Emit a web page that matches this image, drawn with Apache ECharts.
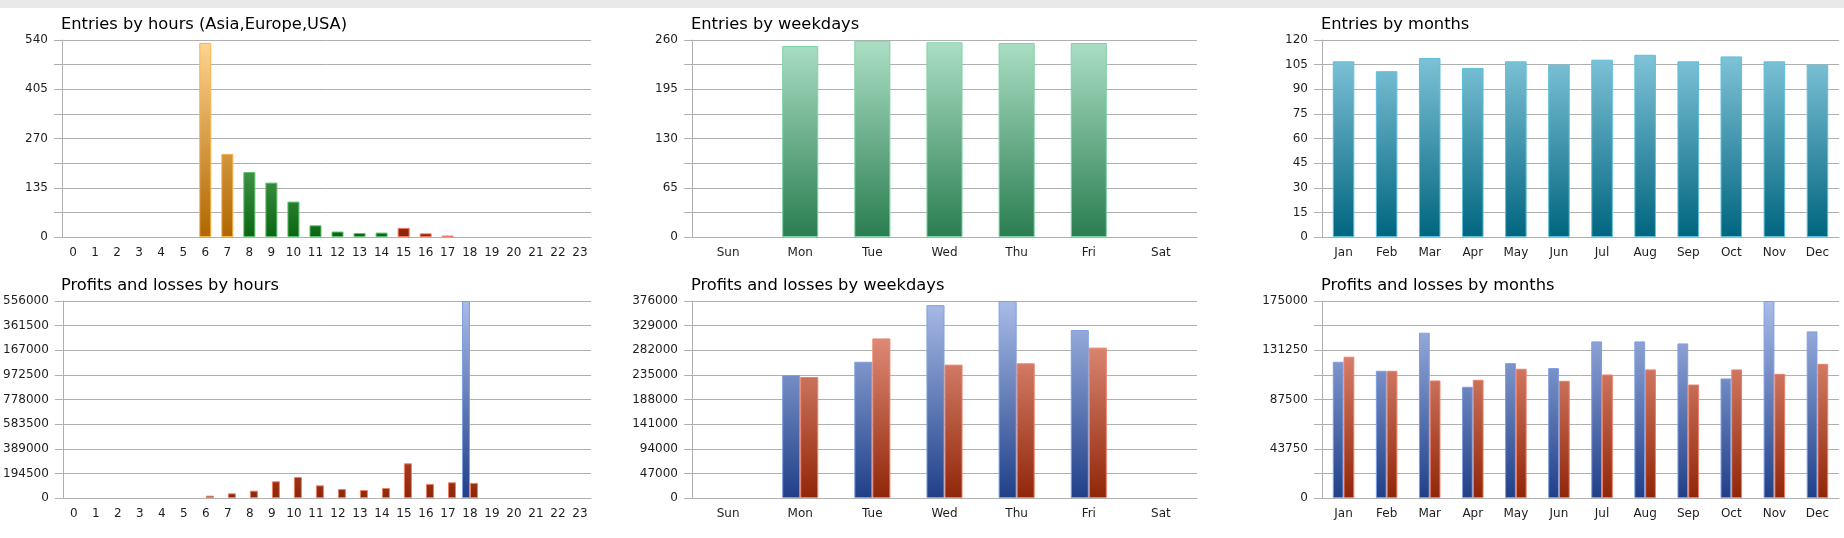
<!DOCTYPE html>
<html>
<head>
<meta charset="utf-8">
<script src="https://cdn.jsdelivr.net/npm/echarts@6/dist/echarts.min.js"></script>
<style>
  html, body { margin: 0; padding: 0; background: #fff; }
  #main { width: 1844px; height: 538px; }
</style>
</head>
<body>
<div id="main"></div>
<script>
// categories
const hours = ['0', '1', '2', '3', '4', '5', '6', '7', '8', '9', '10', '11', '12', '13', '14', '15', '16', '17', '18', '19', '20', '21', '22', '23']
const weekdays = ['Sun', 'Mon', 'Tue', 'Wed', 'Thu', 'Fri', 'Sat']
const months = ['Jan', 'Feb', 'Mar', 'Apr', 'May', 'Jun', 'Jul', 'Aug', 'Sep', 'Oct', 'Nov', 'Dec']

// Entries by hours, one array per region
const asiaEntries = [0, 0, 0, 0, 0, 0, 532, 228, 0, 0, 0, 0, 0, 0, 0, 0, 0, 0, 0, 0, 0, 0, 0, 0]
const europeEntries = [0, 0, 0, 0, 0, 0, 0, 0, 178, 149, 97, 32, 15, 11, 12, 0, 0, 0, 0, 0, 0, 0, 0, 0]
const usaEntries = [0, 0, 0, 0, 0, 0, 0, 0, 0, 0, 0, 0, 0, 0, 0, 25, 10, 4, 0, 0, 0, 0, 0, 0]
const hourEntryMax = 540
const hourEntryTicks = ['0', '', '135', '', '270', '', '405', '', '540']

// Profits and losses by hours
const hourProfits = [0, 0, 0, 0, 0, 0, 0, 0, 0, 0, 0, 0, 0, 0, 0, 0, 0, 0, 1556000, 0, 0, 0, 0, 0]
const hourLosses = [0, 0, 0, 0, 0, 0, 18500, 37000, 58000, 132000, 166000, 100000, 71000, 63000, 79000, 274000, 111000, 124000, 119000, 0, 0, 0, 0, 0]
const hourPLMax = 1556000
const hourPLTicks = ['0', '194500', '389000', '583500', '778000', '972500', '167000', '361500', '556000']

// Entries by weekdays
const weekdayEntries = [0, 252, 259, 257, 256, 256, 0]
const weekdayEntryMax = 260
const weekdayEntryTicks = ['0', '', '65', '', '130', '', '195', '', '260']

// Profits and losses by weekdays
const weekdayProfits = [0, 234500, 260000, 368000, 376000, 320500, 0]
const weekdayLosses = [0, 231000, 304500, 254500, 257000, 287000, 0]
const weekdayPLMax = 376000
const weekdayPLTicks = ['0', '47000', '94000', '141000', '188000', '235000', '282000', '329000', '376000']

// Entries by months
const monthEntries = [107, 101, 109, 103, 107, 105, 108, 111, 107, 110, 107, 105]
const monthEntryMax = 120
const monthEntryTicks = ['0', '15', '30', '45', '60', '75', '90', '105', '120']

// Profits and losses by months
const monthProfits = [121000, 113000, 146800, 98800, 119800, 115400, 139100, 139100, 137300, 106200, 175000, 148000]
const monthLosses = [125500, 113000, 104400, 105000, 114800, 104100, 109700, 114200, 100800, 114200, 110300, 119200]
const monthPLMax = 175000
const monthPLTicks = ['0', '', '43750', '', '87500', '', '131250', '', '175000']

// 版面
const cols = [
  { left: 62, width: 529 },
  { left: 692, width: 505 },
  { left: 1322, width: 517 }
]
const rows = [
  { top: 40, height: 197 },
  { top: 301, height: 197 }
]
const FONT = 'DejaVu Sans'
const TEXT = '#1e1e1e'
const LINE = '#b0b0b0'

// 空值不画
const nz = arr => arr.map(v => (v === 0 ? '-' : v))

// gradient over the whole plot height (global coords)
function grad(row, top, bottom) {
  const r = rows[row]
  return {
    type: 'linear', x: 0, y: r.top, x2: 0, y2: r.top + r.height, global: true,
    colorStops: [{ offset: 0, color: top }, { offset: 1, color: bottom }]
  }
}

const palette = {
  orange: ['#ffd592', '#b06600', '#f8b446'],
  green: ['#a8e6b0', '#0a6612', '#5ec06a'],
  red: ['#f0a292', '#8e2206', '#ec7c64'],
  mint: ['#ace0c6', '#2a7d50', '#7fd2a4'],
  teal: ['#8acbdf', '#00657f', '#5cbfdc'],
  blue: ['#a9bce8', '#1f3f88', '#7e9ee2'],
  salmon: ['#f0a190', '#902608', '#eb8068']
}

function style(row, name) {
  const p = palette[name]
  return { color: grad(row, p[0], p[1]), borderColor: p[2], borderWidth: 1 }
}

const panels = [
  { title: 'Entries by hours (Asia,Europe,USA)', col: 0, row: 0, cats: hours, max: hourEntryMax, ticks: hourEntryTicks },
  { title: 'Profits and losses by hours', col: 0, row: 1, cats: hours, max: hourPLMax, ticks: hourPLTicks },
  { title: 'Entries by weekdays', col: 1, row: 0, cats: weekdays, max: weekdayEntryMax, ticks: weekdayEntryTicks },
  { title: 'Profits and losses by weekdays', col: 1, row: 1, cats: weekdays, max: weekdayPLMax, ticks: weekdayPLTicks },
  { title: 'Entries by months', col: 2, row: 0, cats: months, max: monthEntryMax, ticks: monthEntryTicks },
  { title: 'Profits and losses by months', col: 2, row: 1, cats: months, max: monthPLMax, ticks: monthPLTicks }
]

const option = {
  animation: false,
  backgroundColor: '#fff',
  graphic: [{
    type: 'rect', left: 0, top: 0, silent: true,
    shape: { width: 1844, height: 8 }, style: { fill: '#e9e9e9' }
  }],
  title: panels.map(p => ({
    text: p.title,
    left: cols[p.col].left - 1,
    top: rows[p.row].top - 23,
    padding: 0,
    textStyle: { fontFamily: FONT, fontSize: 16.3, fontWeight: 'normal', color: '#000' }
  })),
  grid: panels.map(p => ({
    left: cols[p.col].left, top: rows[p.row].top,
    width: cols[p.col].width, height: rows[p.row].height,
    containLabel: false
  })),
  xAxis: panels.map((p, i) => ({
    type: 'category', gridIndex: i, data: p.cats,
    axisLine: { lineStyle: { color: LINE } },
    axisTick: { interval: 0, length: 8, lineStyle: { color: LINE } },
    axisLabel: { interval: 0, margin: 10, fontFamily: FONT, fontSize: 12, color: TEXT },
    splitLine: { show: false }
  })),
  yAxis: panels.map((p, i) => ({
    type: 'value', gridIndex: i, min: 0, max: p.max, interval: p.max / 8,
    axisLine: { show: true, lineStyle: { color: LINE } },
    axisTick: { show: true, length: 8, lineStyle: { color: LINE } },
    axisLabel: {
      margin: 14, fontFamily: FONT, fontSize: 12, color: TEXT,
      formatter: v => p.ticks[Math.round(v / (p.max / 8))]
    },
    splitLine: { lineStyle: { color: LINE, width: 1 } }
  })),
  series: [
    // entries by hours
    { type: 'bar', xAxisIndex: 0, yAxisIndex: 0, stack: 'h', barWidth: 12, data: nz(asiaEntries), itemStyle: style(0, 'orange') },
    { type: 'bar', xAxisIndex: 0, yAxisIndex: 0, stack: 'h', barWidth: 12, data: nz(europeEntries), itemStyle: style(0, 'green') },
    { type: 'bar', xAxisIndex: 0, yAxisIndex: 0, stack: 'h', barWidth: 12, data: nz(usaEntries), itemStyle: style(0, 'red') },
    // P&L by hours
    { type: 'bar', xAxisIndex: 1, yAxisIndex: 1, barWidth: 8, barGap: '0%', data: nz(hourProfits), itemStyle: style(1, 'blue') },
    { type: 'bar', xAxisIndex: 1, yAxisIndex: 1, barWidth: 8, barGap: '0%', data: nz(hourLosses), itemStyle: style(1, 'salmon') },
    // entries by weekdays
    { type: 'bar', xAxisIndex: 2, yAxisIndex: 2, barWidth: '50%', data: nz(weekdayEntries), itemStyle: style(0, 'mint') },
    // P&L by weekdays
    { type: 'bar', xAxisIndex: 3, yAxisIndex: 3, barWidth: '25%', barGap: '0%', data: nz(weekdayProfits), itemStyle: style(1, 'blue') },
    { type: 'bar', xAxisIndex: 3, yAxisIndex: 3, barWidth: '25%', barGap: '0%', data: nz(weekdayLosses), itemStyle: style(1, 'salmon') },
    // entries by months
    { type: 'bar', xAxisIndex: 4, yAxisIndex: 4, barWidth: '50%', data: monthEntries, itemStyle: style(0, 'teal') },
    // P&L by months
    { type: 'bar', xAxisIndex: 5, yAxisIndex: 5, barWidth: '25%', barGap: '0%', data: monthProfits, itemStyle: style(1, 'blue') },
    { type: 'bar', xAxisIndex: 5, yAxisIndex: 5, barWidth: '25%', barGap: '0%', data: monthLosses, itemStyle: style(1, 'salmon') }
  ]
}

const myChart = echarts.init(document.getElementById('main'))
myChart.setOption(option)
</script>
</body>
</html>
